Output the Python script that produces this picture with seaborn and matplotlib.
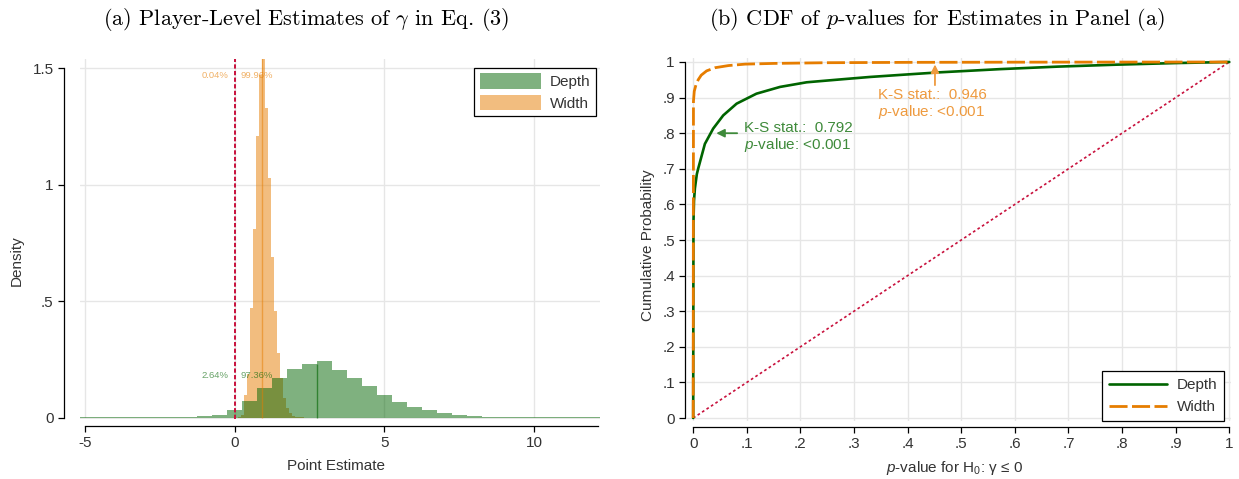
import numpy as np
import pandas as pd
import matplotlib
matplotlib.use("Agg")
import matplotlib.pyplot as plt
import seaborn as sns
from matplotlib.patches import Patch
from matplotlib.lines import Line2D

# ---- panel (a): histogram densities ----
# Depth: bins of width 0.5 from -5.25 to 12.25
depth_edges = np.linspace(-5.25, 12.25, 36)
depth_density = [0.003, 0.003, 0.003, 0.003, 0.003, 0.003, 0.003,
                 0.006, 0.010, 0.013, 0.036, 0.074, 0.130, 0.171, 0.209,
                 0.231, 0.244, 0.206, 0.170, 0.137, 0.099, 0.067, 0.047,
                 0.034, 0.021, 0.013, 0.009, 0.005, 0.005,
                 0.003, 0.003, 0.003, 0.003, 0.003, 0.003]
# Width: bins of width 0.1 from -0.1 to 3.0
width_edges = np.linspace(-0.1, 3.0, 32)
width_density = [0.001, 0.002, 0.004, 0.013, 0.099, 0.19, 0.47, 0.81, 1.21,
                 1.47, 1.56, 1.33, 1.03, 0.69, 0.46, 0.28, 0.17, 0.084,
                 0.041, 0.02, 0.01, 0.006, 0.004, 0.003, 0.002, 0.002,
                 0.001, 0.001, 0.001, 0.001, 0.001]
depth_median = 2.74
width_median = 0.92
depth_share = ["2.64%", "97.36%"]
width_share = ["0.04%", "99.96%"]

# ---- panel (b): CDF of p-values ----
depth_p = [0, 0.0005, 0.0015, 0.0032, 0.0068, 0.0094, 0.0218, 0.0373, 0.056,
           0.081, 0.118, 0.162, 0.2116, 0.274, 0.33, 0.399, 0.46, 0.523,
           0.573, 0.68, 0.79, 0.9, 1.0]
depth_cdf = [0, 0.55, 0.61, 0.645, 0.685, 0.701, 0.77, 0.813, 0.850,
             0.883, 0.911, 0.930, 0.943, 0.951, 0.958, 0.965, 0.971, 0.976,
             0.980, 0.987, 0.9925, 0.997, 1.0]
width_p = [0, 0.0005, 0.002, 0.005, 0.0093, 0.015, 0.025, 0.041, 0.066,
           0.097, 0.15, 0.25, 0.4, 0.6, 1.0]
width_cdf = [0, 0.89, 0.918, 0.935, 0.950, 0.963, 0.975, 0.984, 0.990,
             0.994, 0.996, 0.998, 0.999, 0.9995, 1.0]
ks_depth = ["K-S stat.:  0.792", "$p$-value: <0.001"]
ks_width = ["K-S stat.:  0.946", "$p$-value: <0.001"]

GREEN = "#006400"
ORANGE = "#E67D00"
RED = "#C8103C"
GRID = "#e6e6e6"
TXT = "#333333"

sns.set_theme(style="white")
plt.rcParams["font.family"] = ["Liberation Sans", "DejaVu Sans"]
plt.rcParams["mathtext.fontset"] = "custom"
plt.rcParams["mathtext.rm"] = "Liberation Sans"
plt.rcParams["mathtext.it"] = "Liberation Sans:italic"
plt.rcParams["axes.linewidth"] = 0.9
plt.rcParams["xtick.color"] = "black"
plt.rcParams["ytick.color"] = "black"
plt.rcParams["xtick.labelcolor"] = TXT
plt.rcParams["ytick.labelcolor"] = TXT

W, H = 1239, 479
fig = plt.figure(figsize=(W / 100, H / 100), dpi=100)


def px_axes(l, t, r, b):
    return fig.add_axes([l / W, 1 - b / H, (r - l) / W, (b - t) / H])


def style_axes(ax):
    ax.grid(True, color=GRID, lw=1)
    ax.set_axisbelow(True)
    for s in ["top", "right"]:
        ax.spines[s].set_visible(False)
    for s in ["left", "bottom"]:
        ax.spines[s].set_color("black")
    ax.tick_params(axis="both", direction="out", length=4.5, width=0.9,
                   labelsize=11, pad=3, left=True, bottom=True)


# ================= panel (a) =================
ax1 = px_axes(80, 59, 600, 419)
style_axes(ax1)

depth_df = pd.DataFrame({"est": (depth_edges[:-1] + depth_edges[1:]) / 2,
                         "dens": depth_density})
width_df = pd.DataFrame({"est": (width_edges[:-1] + width_edges[1:]) / 2,
                         "dens": width_density})
sns.histplot(data=width_df, x="est", weights="dens", bins=list(width_edges),
             stat="count", color=ORANGE, alpha=0.5, linewidth=0, ax=ax1)
sns.histplot(data=depth_df, x="est", weights="dens", bins=list(depth_edges),
             stat="count", color=GREEN, alpha=0.5, linewidth=0, ax=ax1)

# median lines up to the bar height
i = np.searchsorted(width_edges, width_median) - 1
ax1.vlines(width_median, 0, width_density[i], color=ORANGE, alpha=0.5, lw=1)
i = np.searchsorted(depth_edges, depth_median) - 1
ax1.vlines(depth_median, 0, depth_density[i], color=GREEN, alpha=0.6, lw=1)

ax1.axvline(0, color=RED, lw=1.4, ls=(0, (2.2, 1.2)))

ax1.set_xlim(-5.167, 12.205)
ax1.set_ylim(-0.0043, 1.5386)
ax1.set_xticks([-5, 0, 5, 10])
ax1.set_xticklabels(["-5", "0", "5", "10"])
ax1.set_yticks([0, 0.5, 1, 1.5])
ax1.set_yticklabels(["0", ".5", "1", "1.5"])
ax1.spines["left"].set_position(("outward", 11.5))
ax1.spines["bottom"].set_position(("outward", 5))
ax1.spines["left"].set_bounds(0, 1.5)
ax1.spines["bottom"].set_bounds(-5, 12.13)

ax1.text(-0.19, 1.47, width_share[0], color=ORANGE, alpha=0.6, fontsize=6.8,
         ha="right", va="center")
ax1.text(0.21, 1.47, width_share[1], color=ORANGE, alpha=0.6, fontsize=6.8,
         ha="left", va="center")
ax1.text(-0.19, 0.184, depth_share[0], color=GREEN, alpha=0.6, fontsize=6.8,
         ha="right", va="center")
ax1.text(0.21, 0.184, depth_share[1], color=GREEN, alpha=0.6, fontsize=6.8,
         ha="left", va="center")

ax1.set_xlabel("Point Estimate", fontsize=11, color=TXT)
ax1.set_ylabel("Density", fontsize=11, color=TXT)
ax1.xaxis.set_label_coords(0.492, -0.111)
ax1.yaxis.set_label_coords(-0.108, 0.44)

hist_handles = [Patch(facecolor=GREEN, alpha=0.5, linewidth=0),
                Patch(facecolor=ORANGE, alpha=0.5, linewidth=0)]
leg1 = ax1.legend(hist_handles, ["Depth", "Width"], loc="upper right",
                  bbox_to_anchor=(0.992, 0.975), borderaxespad=0,
                  fontsize=11, fancybox=False, framealpha=1,
                  edgecolor="black", handlelength=4.0, handleheight=1.2,
                  handletextpad=0.6, labelspacing=0.35, borderpad=0.35)
leg1.get_frame().set_linewidth(0.9)
for t in leg1.get_texts():
    t.set_color(TXT)

# ================= panel (b) =================
ax2 = px_axes(686.6, 58.4, 1230.6, 420.8)
style_axes(ax2)

ax2.plot([0, 1], [0, 1], color=RED, lw=1.2, ls=(0, (1.6, 1.6)))
sns.lineplot(x=depth_p, y=depth_cdf, color=GREEN, lw=1.9, sort=False,
             estimator=None, ax=ax2)
sns.lineplot(x=width_p, y=width_cdf, color=ORANGE, lw=2.0, sort=False,
             estimator=None, linestyle=(0, (6.5, 1.6)), ax=ax2)

ax2.set_xlim(-0.0123, 1.0025)
ax2.set_ylim(-0.0078, 1.0101)
ticks = [0, .1, .2, .3, .4, .5, .6, .7, .8, .9, 1]
tick_labels = ["0", ".1", ".2", ".3", ".4", ".5", ".6", ".7", ".8", ".9", "1"]
ax2.set_xticks(ticks)
ax2.set_xticklabels(tick_labels)
ax2.set_yticks(ticks)
ax2.set_yticklabels(tick_labels)
ax2.spines["left"].set_position(("outward", 1))
ax2.spines["bottom"].set_position(("outward", 4.3))
ax2.spines["left"].set_bounds(0, 1)
ax2.spines["bottom"].set_bounds(0, 1)

ORANGE_TXT = "#EE9A3E"
GREEN_TXT = "#3E8A3A"
ax2.annotate("", xy=(0.451, 0.993), xytext=(0.451, 0.935),
             arrowprops=dict(arrowstyle="-|>", color=ORANGE_TXT, lw=1.3,
                             mutation_scale=12, shrinkA=0, shrinkB=0))
ax2.text(0.345, 0.907, ks_width[0], color=ORANGE_TXT, fontsize=11,
         ha="left", va="center")
ax2.text(0.345, 0.860, ks_width[1], color=ORANGE_TXT, fontsize=11,
         ha="left", va="center")
ax2.annotate("", xy=(0.043, 0.80), xytext=(0.082, 0.80),
             arrowprops=dict(arrowstyle="-|>", color=GREEN_TXT, lw=1.3,
                             mutation_scale=12, shrinkA=0, shrinkB=0))
ax2.text(0.095, 0.815, ks_depth[0], color=GREEN_TXT, fontsize=11,
         ha="left", va="center")
ax2.text(0.095, 0.768, ks_depth[1], color=GREEN_TXT, fontsize=11,
         ha="left", va="center")

ax2.set_xlabel("$p$-value for H$_0$: γ ≤ 0", fontsize=11, color=TXT)
ax2.set_ylabel("Cumulative Probability", fontsize=11, color=TXT)
ax2.xaxis.set_label_coords(0.493, -0.105)
ax2.yaxis.set_label_coords(-0.058, 0.485)

line_handles = [Line2D([], [], color=GREEN, lw=1.9),
                Line2D([], [], color=ORANGE, lw=2.0, ls=(0, (6.5, 1.6)))]
leg2 = ax2.legend(line_handles, ["Depth", "Width"], loc="lower right",
                  bbox_to_anchor=(0.988, 0.0), borderaxespad=0,
                  fontsize=11, fancybox=False, framealpha=1,
                  edgecolor="black", handlelength=3.8,
                  handletextpad=0.6, labelspacing=0.5, borderpad=0.45)
leg2.get_frame().set_linewidth(0.9)
for t in leg2.get_texts():
    t.set_color(TXT)

# ---- panel titles ----
fig.text(306 / W, 1 - 25 / H, r"(a) Player-Level Estimates of $\gamma$ in Eq. (3)",
         family="cmr10", math_fontfamily="cm", fontsize=16,
         ha="center", va="baseline", color="black")
fig.text(937 / W, 1 - 25 / H, r"(b) CDF of $p$-values for Estimates in Panel (a)",
         family="cmr10", math_fontfamily="cm", fontsize=16,
         ha="center", va="baseline", color="black")

fig.savefig("out.png", dpi=100)
